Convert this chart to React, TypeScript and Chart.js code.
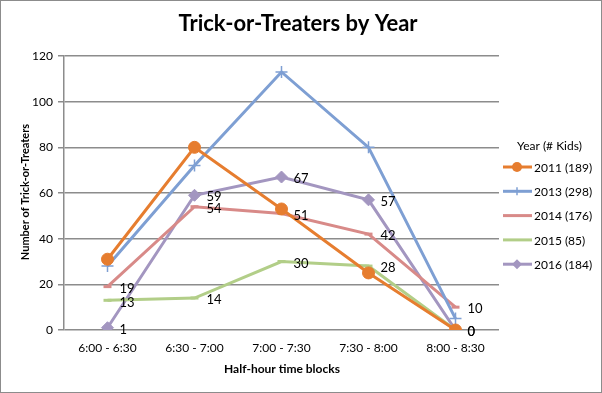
import React, { useEffect, useRef } from "react";
import { Chart, registerables } from "chart.js";
Chart.register(...registerables);

const categories = ["6:00 - 6:30", "6:30 - 7:00", "7:00 - 7:30", "7:30 - 8:00", "8:00 - 8:30"];
const seriesNames = ["2011 (189)", "2013 (298)", "2014 (176)", "2015 (85)", "2016 (184)"];
const s2011 = [31, 80, 53, 25, 0];
const s2013 = [28, 72, 113, 80, 5];
const s2014 = [19, 54, 51, 42, 10];
const s2015 = [13, 14, 30, 28, 0];
const s2016 = [1, 59, 67, 57, 0];
const yTicks = [0, 20, 40, 60, 80, 100, 120];
const labeledSeries = [2, 3, 4];

const FONT = "Lato, 'Open Sans', sans-serif";
const colors = ["#E67D2F", "#7E9FD3", "#D88A88", "#B2CE88", "#A396C0"];
const styles = ["circle", "cross", "line", "line", "rectRot"];
const radii = [6, 6, 4, 4, 6];

export default function App() {
  const ref = useRef<HTMLCanvasElement>(null);
  useEffect(() => {
    document.body.style.margin = "0";
    const all = [s2011, s2013, s2014, s2015, s2016];
    const overlay = {
      id: "overlay",
      afterDatasetsDraw(chart: any) {
        const ctx = chart.ctx;
        ctx.save();
        // data labels
        ctx.font = `13px ${FONT}`;
        ctx.fillStyle = "#000";
        ctx.textAlign = "left";
        ctx.textBaseline = "middle";
        labeledSeries.forEach((di) => {
          const meta = chart.getDatasetMeta(di);
          meta.data.forEach((pt: any, i: number) => {
            ctx.fillText(String(all[di][i]), pt.x + 12, pt.y + 2);
          });
        });
        // title
        ctx.font = `bold 22px ${FONT}`;
        ctx.textAlign = "center";
        ctx.fillText("Trick-or-Treaters by Year", 298, 24);
        // axis titles
        ctx.font = `bold 12px ${FONT}`;
        ctx.fillText("Half-hour time blocks", 282, 369);
        ctx.save();
        ctx.translate(25, 192);
        ctx.rotate(-Math.PI / 2);
        ctx.font = `bold 11px ${FONT}`;
        ctx.fillText("Number of Trick-or-Treaters", 0, 0);
        ctx.restore();
        // legend
        ctx.font = `12px ${FONT}`;
        ctx.textAlign = "left";
        ctx.fillText("Year (# Kids)", 517, 146);
        seriesNames.forEach((name, i) => {
          const y = 167 + i * 24.3;
          ctx.strokeStyle = colors[i];
          ctx.lineWidth = 3;
          ctx.beginPath();
          ctx.moveTo(503, y);
          ctx.lineTo(532, y);
          ctx.stroke();
          ctx.fillStyle = colors[i];
          ctx.strokeStyle = colors[i];
          if (styles[i] === "circle") {
            ctx.beginPath();
            ctx.arc(517, y, 5, 0, Math.PI * 2);
            ctx.fill();
          } else if (styles[i] === "cross") {
            ctx.lineWidth = 1.5;
            ctx.beginPath();
            ctx.moveTo(517, y - 4);
            ctx.lineTo(517, y + 4);
            ctx.stroke();
          } else if (styles[i] === "rectRot") {
            ctx.beginPath();
            ctx.moveTo(517, y - 5);
            ctx.lineTo(522, y);
            ctx.lineTo(517, y + 5);
            ctx.lineTo(512, y);
            ctx.closePath();
            ctx.fill();
          }
          ctx.fillStyle = "#000";
          ctx.fillText(name, 534, y + 1);
        });
        ctx.restore();
      },
    };
    const chart = new Chart(ref.current!, {
      type: "line",
      data: {
        labels: categories,
        datasets: all.map((d, i) => ({
          label: seriesNames[i],
          data: d,
          borderColor: colors[i],
          backgroundColor: colors[i],
          borderWidth: 3,
          pointStyle: styles[i] as any,
          pointRadius: radii[i],
          pointBorderWidth: styles[i] === "cross" ? 1.5 : styles[i] === "line" ? 3 : 1,
          tension: 0,
        })),
      },
      options: {
        animation: false,
        responsive: false,
        layout: { padding: { left: 0, top: 56, right: 103, bottom: 0 } },
        plugins: { legend: { display: false }, title: { display: false }, tooltip: { enabled: false } },
        scales: {
          x: {
            offset: true,
            grid: { display: false, drawTicks: false },
            border: { display: false },
            ticks: { font: { family: FONT, size: 12 }, color: "#000", padding: 11 },
            afterFit: (s: any) => { s.height = 63; },
          },
          y: {
            min: 0,
            max: 120,
            afterBuildTicks: (s: any) => { s.ticks = yTicks.map((v) => ({ value: v })); },
            grid: { color: "#8C8C8C", lineWidth: 1.5, tickLength: 6 },
            border: { display: true, color: "#8C8C8C", width: 1.5 },
            ticks: { font: { family: FONT, size: 12 }, color: "#000", padding: 5 },
            afterFit: (s: any) => { s.width = 64; },
          },
        },
      },
      plugins: [overlay],
    });
    return () => chart.destroy();
  }, []);
  return (
    <div style={{ position: "relative", width: 602, height: 393 }}>
      <canvas ref={ref} width={602} height={393} style={{ display: "block" }} />
      <div style={{ position: "absolute", left: 0, top: 0, width: 602, height: 393, boxSizing: "border-box", border: "1px solid #8C8C8C", pointerEvents: "none" }} />
    </div>
  );
}
